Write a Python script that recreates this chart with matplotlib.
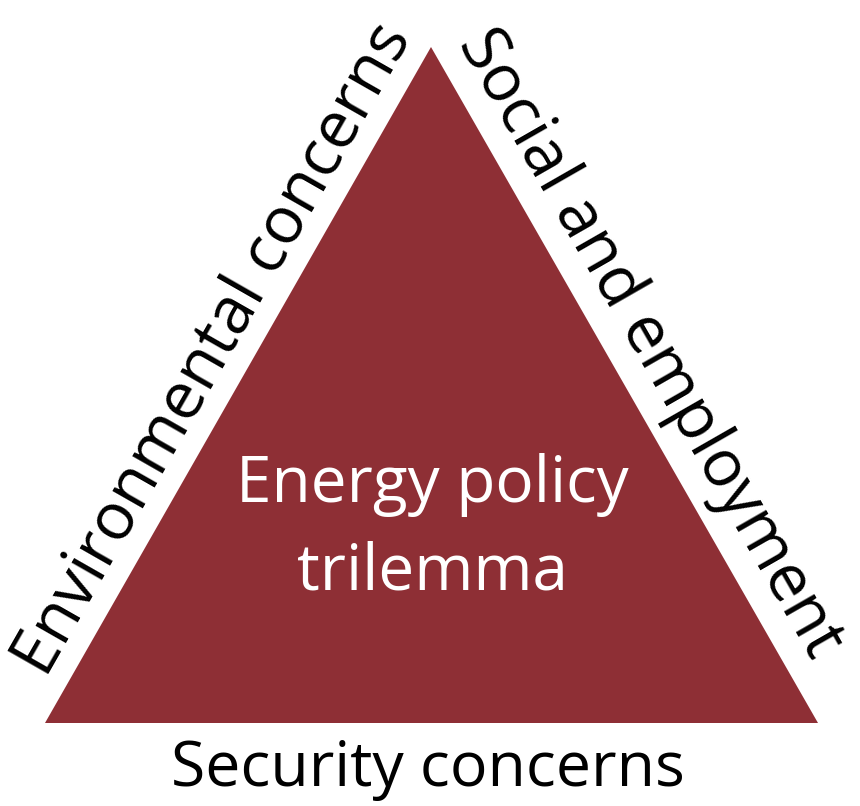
import matplotlib
matplotlib.use("Agg")
import matplotlib.pyplot as plt
from matplotlib.patches import Polygon

plt.rcParams['font.family'] = ['Open Sans', 'DejaVu Sans']

# Data
vertex_x = [45, 431, 818]
vertex_y = [723, 47, 723]
center_lines = ["Energy policy", "trilemma"]
side_labels = ["Environmental concerns", "Social and employment", "Security concerns"]
fill_color = "#8E2F35"

W, H = 860, 806
fig = plt.figure(figsize=(W / 100, H / 100), dpi=100)
ax = fig.add_axes([0, 0, 1, 1])
ax.set_xlim(0, W)
ax.set_ylim(H, 0)
ax.axis('off')

tri = Polygon(list(zip(vertex_x, vertex_y)), closed=True, facecolor=fill_color, edgecolor='none')
ax.add_patch(tri)

ax.text(432, 502, center_lines[0], ha='center', va='baseline', color='white', fontsize=46)
ax.text(432, 590, center_lines[1], ha='center', va='baseline', color='white', fontsize=46)

ax.text(214, 350, side_labels[0], ha='center', va='center', rotation=60.3,
        rotation_mode='anchor', fontsize=47, color='black')
ax.text(650, 344, side_labels[1], ha='center', va='center', rotation=-60.2,
        rotation_mode='anchor', fontsize=47, color='black')
ax.text(428, 786, side_labels[2], ha='center', va='baseline', fontsize=45, color='black')

fig.savefig("out.png", dpi=100)
